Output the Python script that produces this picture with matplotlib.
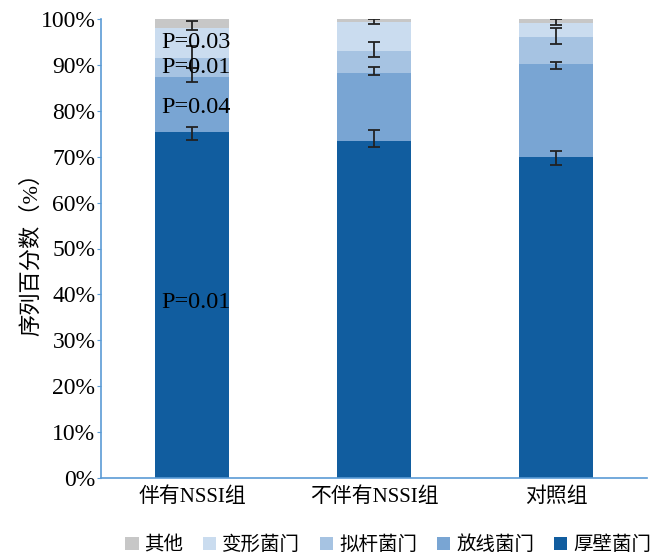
import matplotlib
matplotlib.use("Agg")
from matplotlib import pyplot as plt
import numpy as np

groups = ["伴有NSSI组", "不伴有NSSI组", "对照组"]
series = ["厚壁菌门", "放线菌门", "拟杆菌门", "变形菌门", "其他"]
# percentages per segment (bottom to top)
hou_bi = [75.4, 73.5, 69.9]
fang_xian = [12.0, 14.8, 20.4]
ni_gan = [4.1, 4.7, 5.8]
bian_xing = [6.5, 6.3, 3.0]
qi_ta = [2.0, 0.7, 0.9]
# error bars at top of each segment (centre %, half-width %)
err_center = {
    "厚壁菌门": [75.0, 74.0, 69.8],
    "放线菌门": [87.8, 88.6, 89.8],
    "拟杆菌门": [91.8, 93.3, 96.3],
    "变形菌门": [98.6, 99.5, 99.3],
}
err_half = {
    "厚壁菌门": [1.4, 1.8, 1.5],
    "放线菌门": [1.6, 0.9, 0.8],
    "拟杆菌门": [2.4, 1.6, 1.8],
    "变形菌门": [1.0, 0.6, 0.7],
}
p_labels = ["P=0.01", "P=0.04", "P=0.01", "P=0.03"]
p_y = [38.3, 80.8, 89.5, 94.8]

colors = ["#115d9f", "#79a5d3", "#a6c3e2", "#cadcef", "#c7c7c7"]
serif = ["Liberation Serif", "Noto Sans CJK SC"]
plt.rcParams["font.family"] = serif
axis_color = "#5b9bd5"

fig = plt.figure(figsize=(6.54, 5.55), dpi=100)
ax = fig.add_axes([101 / 654, 1 - 478 / 555, 546 / 654, 459 / 555])

x = np.arange(len(groups))
width = 0.41
values = [hou_bi, fang_xian, ni_gan, bian_xing, qi_ta]
bottom = np.zeros(len(groups))
for name, vals, col in zip(series, values, colors):
    ax.bar(x, vals, width, bottom=bottom, color=col, label=name, zorder=2)
    bottom += np.array(vals)

for name in err_center:
    ax.errorbar(x, err_center[name], yerr=err_half[name], fmt="none",
                ecolor="#222222", elinewidth=1.3, capsize=4, capthick=1.3, zorder=3)

for lab, yy in zip(p_labels, p_y):
    ax.text(x[0] + 0.02, yy, lab, ha="center", va="center", fontsize=17.5,
            family=serif, zorder=4)

ax.set_xlim(-0.5, 2.5)
ax.set_ylim(0, 100)
ax.set_yticks(np.arange(0, 101, 10))
ax.set_yticklabels([f"{v}%" for v in range(0, 101, 10)], fontsize=17)
ax.set_xticks(x)
ax.set_xticklabels(groups, fontsize=15)
ax.tick_params(axis="x", length=0, pad=7)
ax.tick_params(axis="y", length=3, color=axis_color, direction="out", pad=1)
for s in ["top", "right"]:
    ax.spines[s].set_visible(False)
for s in ["left", "bottom"]:
    ax.spines[s].set_color(axis_color)
    ax.spines[s].set_linewidth(1.2)
ax.set_ylabel("序列百分数（%）", fontsize=16)
ax.yaxis.set_label_coords(-0.108, 0.5)

handles, labels = ax.get_legend_handles_labels()
fig.legend(handles[::-1], labels[::-1], loc="center", bbox_to_anchor=(388 / 654, 1 - 545 / 555),
           ncol=5, frameon=False, fontsize=14, handlelength=0.7, handleheight=0.7,
           handletextpad=0.3, columnspacing=1.0)

fig.savefig("out.png", dpi=100)
